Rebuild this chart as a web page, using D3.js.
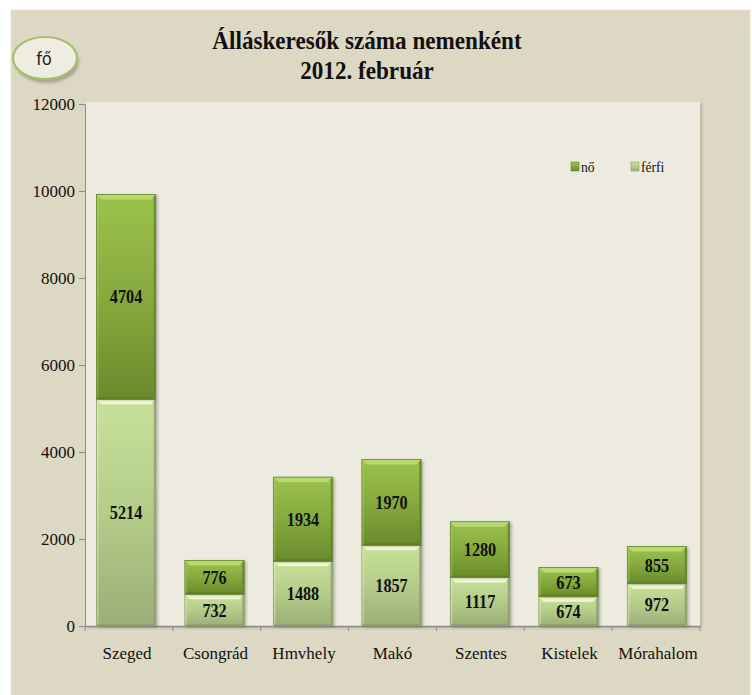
<!DOCTYPE html>
<html>
<head>
<meta charset="utf-8">
<script src="https://cdn.jsdelivr.net/npm/d3@7"></script>
<style>
  html, body { margin: 0; padding: 0; background: #ffffff; }
  svg { display: block; }
</style>
</head>
<body>
<svg id="chart" width="752" height="695"></svg>
<script>
// ---- data ----
const categories = ["Szeged", "Csongrád", "Hmvhely", "Makó", "Szentes", "Kistelek", "Mórahalom"];
const ferfi = [5214, 732, 1488, 1857, 1117, 674, 972];
const no = [4704, 776, 1934, 1970, 1280, 673, 855];
const seriesNames = ["férfi", "nő"];
const yTicks = [0, 2000, 4000, 6000, 8000, 10000, 12000];
const titleLines = ["Álláskeresők száma nemenként", "2012. február"];
const unitLabel = "fő";

// ---- layout ----
const svg = d3.select("#chart");
const plot = { left: 85, right: 700, top: 102, bottom: 626 };
const serif = "'Liberation Serif', 'Times New Roman', serif";

const defs = svg.append("defs");
function grad(id, stops) {
  const g = defs.append("linearGradient").attr("id", id)
    .attr("x1", 0).attr("y1", 0).attr("x2", 0).attr("y2", 1);
  stops.forEach(([o, c]) => g.append("stop").attr("offset", o).attr("stop-color", c));
}
grad("gNo", [[0, "#9cc24d"], [0.5, "#86aa3e"], [1, "#6a8a2c"]]);
grad("gFerfi", [[0, "#c7e19a"], [0.5, "#b4cc89"], [1, "#9bae78"]]);
const blur = defs.append("filter").attr("id", "shadow").attr("x", "-20%").attr("y", "-20%").attr("width", "140%").attr("height", "140%");
blur.append("feGaussianBlur").attr("stdDeviation", 1.5);

// helper: condensed text (narrow serif look of the original)
function ctext(xp, yp, str, size, sx, opts = {}) {
  return svg.append("text")
    .attr("transform", `translate(${xp},${yp}) scale(${sx},1)`)
    .attr("text-anchor", opts.anchor || "middle")
    .attr("font-family", opts.family || serif)
    .attr("font-weight", opts.weight || "normal")
    .attr("font-size", size).attr("fill", opts.fill || "#111").text(str);
}

// outer panel
svg.append("rect").attr("x", 11).attr("y", 10).attr("width", 739).attr("height", 690)
  .attr("fill", "#ddd8c3").attr("stroke", "#e6e2d2").attr("stroke-width", 1);

// plot area with shadow
svg.append("rect").attr("x", plot.left + 2).attr("y", plot.top + 2)
  .attr("width", plot.right - plot.left).attr("height", plot.bottom - plot.top)
  .attr("fill", "#b9b4a2").attr("filter", "url(#shadow)");
svg.append("rect").attr("x", plot.left).attr("y", plot.top)
  .attr("width", plot.right - plot.left).attr("height", plot.bottom - plot.top)
  .attr("fill", "#edebe0");

// scales
const x = d3.scaleBand().domain(categories).range([plot.left, plot.right]).paddingInner(0.33).paddingOuter(0.14);
const y = d3.scaleLinear().domain([0, 12000]).range([plot.bottom, 104]);

// title
ctext(367, 49, titleLines[0], 26, 0.89, { weight: "bold" });
ctext(367, 79, titleLines[1], 26, 0.89, { weight: "bold" });

// unit bubble
svg.append("ellipse").attr("cx", 46).attr("cy", 60).attr("rx", 32).attr("ry", 21)
  .attr("fill", "#a8a38f").attr("filter", "url(#shadow)").attr("transform", "translate(1,2)");
svg.append("ellipse").attr("cx", 45).attr("cy", 58).attr("rx", 32).attr("ry", 21)
  .attr("fill", "#efede2").attr("stroke", "#a3c16a").attr("stroke-width", 2.2);
ctext(44, 65, unitLabel, 20, 0.85, { family: "Lato, 'Open Sans', sans-serif", fill: "#222" });

// y axis
const yAxis = svg.append("g").attr("transform", `translate(${plot.left},0)`)
  .call(d3.axisLeft(y).tickValues(yTicks).tickSize(6).tickPadding(4).tickFormat(d3.format("d")));
yAxis.select(".domain").attr("stroke", "#8c8c8c");
yAxis.selectAll(".tick line").attr("stroke", "#8c8c8c");
yAxis.selectAll("text").attr("font-family", serif).attr("font-size", 17).attr("fill", "#111");

// x axis
const xAxis = svg.append("g").attr("transform", `translate(0,${plot.bottom})`)
  .call(d3.axisBottom(x).tickSize(0).tickPadding(21));
xAxis.select(".domain").attr("stroke", "#8c8c8c").attr("stroke-width", 1.5);
xAxis.selectAll("text").attr("font-family", serif).attr("font-size", 17).attr("fill", "#111");
// category boundary ticks
const step = x.step();
const bounds = d3.range(categories.length + 1).map(i => plot.left + i * (plot.right - plot.left) / categories.length);
svg.append("g").selectAll("line").data(bounds).join("line")
  .attr("x1", d => d).attr("x2", d => d).attr("y1", plot.bottom).attr("y2", plot.bottom + 5)
  .attr("stroke", "#8c8c8c");

// stacked data
const rows = categories.map((c, i) => ({ cat: c, "férfi": ferfi[i], "nő": no[i] }));
const stack = d3.stack().keys(seriesNames)(rows);
const styles = {
  "férfi": { fill: "url(#gFerfi)", bevel: "#f6fbd6", edge: "#8fa06c", bottomEdge: "#8d9e6c" },
  "nő": { fill: "url(#gNo)", bevel: "#b9da71", edge: "#66852a", bottomEdge: "#5f7d25" }
};

const bw = x.bandwidth();
const b = 5;
stack.forEach(layer => {
  const st = styles[layer.key];
  const g = svg.append("g");
  layer.forEach((d, i) => {
    const x0 = x(categories[i]) - 1, x1 = x0 + bw;
    const yt = y(d[1]), yb = y(d[0]);
    g.append("rect").attr("x", x0 + 2).attr("y", yt + 1).attr("width", bw).attr("height", yb - yt)
      .attr("fill", "rgba(0,0,0,0.28)").attr("filter", "url(#shadow)");
    g.append("rect").attr("x", x0).attr("y", yt).attr("width", bw).attr("height", yb - yt)
      .attr("fill", st.fill);
    g.append("polygon").attr("points", [[x0, yt], [x1, yt], [x1 - b, yt + b], [x0 + b, yt + b]].join(" "))
      .attr("fill", st.bevel).attr("opacity", 0.95);
    g.append("polygon").attr("points", [[x0, yt], [x0 + 2, yt + 2], [x0 + 2, yb - 2], [x0, yb]].join(" "))
      .attr("fill", st.bevel).attr("opacity", 0.35);
    g.append("polygon").attr("points", [[x1, yt], [x1 - 2, yt + 2], [x1 - 2, yb - 2], [x1, yb]].join(" "))
      .attr("fill", st.edge).attr("opacity", 0.8);
    g.append("polygon").attr("points", [[x0, yb], [x1, yb], [x1 - 2, yb - 2], [x0 + 2, yb - 2]].join(" "))
      .attr("fill", st.bottomEdge).attr("opacity", 0.8);
    g.append("rect").attr("x", x0).attr("y", yt).attr("width", bw).attr("height", yb - yt)
      .attr("fill", "none").attr("stroke", st.edge).attr("stroke-width", 0.8);
  });
});
// value labels on top of all bars
stack.forEach(layer => {
  layer.forEach((d, i) => {
    const xc = x(categories[i]) - 1 + bw / 2;
    const yt = y(d[1]), yb = y(d[0]);
    ctext(xc, (yt + yb) / 2 + 6.5, d.data[layer.key], 18, 0.9, { weight: "bold" });
  });
});

// legend
const legend = [{ key: "nő", x: 571 }, { key: "férfi", x: 631 }];
legend.forEach(l => {
  const st = styles[l.key];
  svg.append("rect").attr("x", l.x).attr("y", 162).attr("width", 8).attr("height", 9)
    .attr("fill", st.fill).attr("stroke", st.edge).attr("stroke-width", 0.6);
  ctext(l.x + 10, 172, l.key, 15, 0.9, { anchor: "start" });
});
</script>
</body>
</html>
